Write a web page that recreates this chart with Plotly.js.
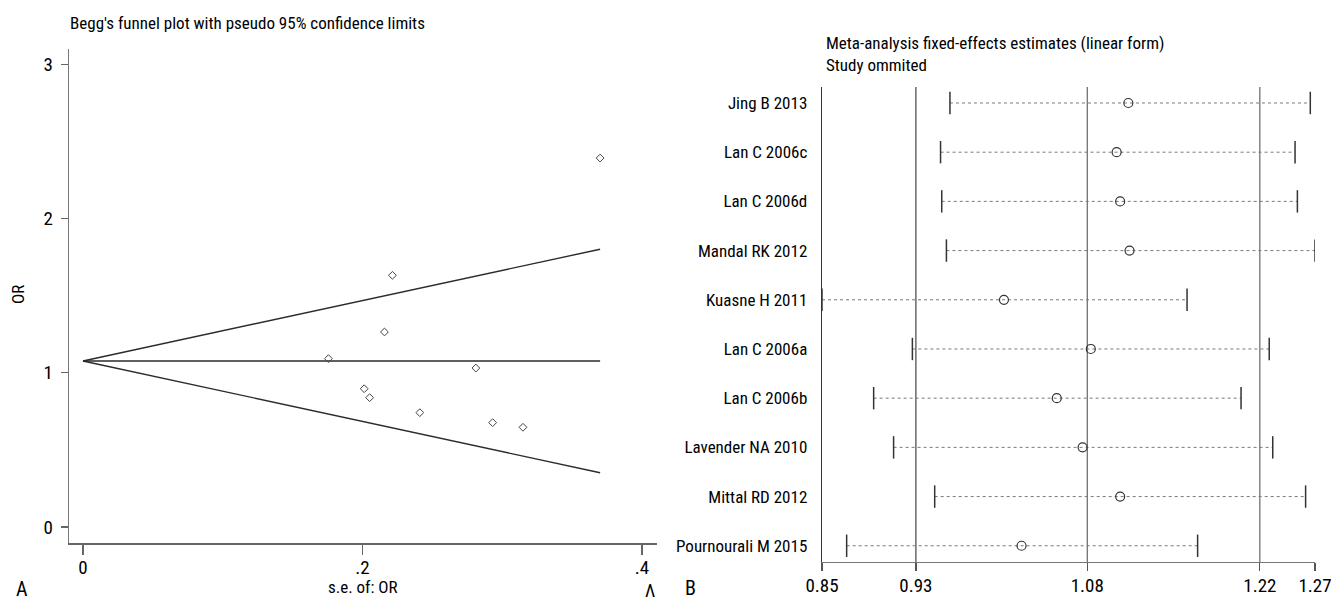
<!DOCTYPE html>
<html>
<head>
<meta charset="utf-8">
<script src="https://cdn.plot.ly/plotly-3.0.1.min.js"></script>
<style>
  html, body { margin: 0; padding: 0; background: #fff; overflow: hidden; }
  #chart { width: 1335px; height: 601px; }
</style>
</head>
<body>
<div id="chart"></div>
<script>
// ---- Panel A: Begg's funnel plot ----
const seOR = [0.1756, 0.2157, 0.2214, 0.2811, 0.2012, 0.2051, 0.2410, 0.2931, 0.3148, 0.3700];
const orValues = [1.091, 1.264, 1.631, 1.030, 0.896, 0.838, 0.741, 0.676, 0.646, 2.391];
// pseudo 95% confidence limits (straight lines from the pooled estimate)
const funnelSE = [0, 0.370];
const funnelUpper = [1.076, 1.800];
const funnelLower = [1.076, 0.351];
const funnelCenter = [1.076, 1.076];
const funnelXTicks = [0, 0.2, 0.4];
const funnelXLabels = ['0', '.2', '.4'];
const funnelYTicks = [0, 1, 2, 3];

// ---- Panel B: influence analysis, one study omitted at a time ----
const studies = ['Jing B 2013', 'Lan C 2006c', 'Lan C 2006d', 'Mandal RK 2012', 'Kuasne H 2011',
                 'Lan C 2006a', 'Lan C 2006b', 'Lavender NA 2010', 'Mittal RD 2012', 'Pournourali M 2015'];
const estimate = [1.111, 1.101, 1.104, 1.112, 1.005, 1.079, 1.050, 1.072, 1.104, 1.020];
const lowerCI  = [0.959, 0.951, 0.952, 0.956, 0.850, 0.927, 0.894, 0.911, 0.946, 0.871];
const upperCI  = [1.266, 1.253, 1.255, 1.270, 1.161, 1.231, 1.207, 1.234, 1.262, 1.170];
const pooledEstimate = 1.076;
const pooledCI = [0.930, 1.223];
const forestTicks = [0.85, 0.930, 1.076, 1.223, 1.27];
const forestTickLabels = ['0.85', '0.93', '1.08', '1.22', '1.27'];

const FONT = '"Roboto Condensed", "Liberation Sans Narrow", "Arial Narrow", sans-serif';
const INK = '#000';
const W = 1335, H = 601;
const px = v => v / W;
const py = v => 1 - v / H;

const rows = studies.map((_, i) => i);

// dotted interval segments, one per study, separated by gaps
const segX = [], segY = [];
rows.forEach(i => { segX.push(lowerCI[i], upperCI[i], null); segY.push(i, i, null); });

const traces = [
  { x: funnelSE, y: funnelUpper, xaxis: 'x', yaxis: 'y', mode: 'lines',
    line: { color: '#2b2b2b', width: 1.4 }, hoverinfo: 'skip' },
  { x: funnelSE, y: funnelLower, xaxis: 'x', yaxis: 'y', mode: 'lines',
    line: { color: '#2b2b2b', width: 1.4 }, hoverinfo: 'skip' },
  { x: funnelSE, y: funnelCenter, xaxis: 'x', yaxis: 'y', mode: 'lines',
    line: { color: '#2b2b2b', width: 1.4 }, hoverinfo: 'skip' },
  { x: seOR, y: orValues, xaxis: 'x', yaxis: 'y', mode: 'markers',
    marker: { symbol: 'diamond-open', size: 6, color: '#444', line: { width: 1, color: '#444' } } },

  { x: segX, y: segY, xaxis: 'x2', yaxis: 'y2', mode: 'lines',
    line: { color: '#7a7a7a', width: 1, dash: 'dot' }, connectgaps: false, hoverinfo: 'skip' },
  { x: lowerCI.concat(upperCI), y: rows.concat(rows), xaxis: 'x2', yaxis: 'y2', mode: 'markers',
    marker: { symbol: 'line-ns-open', size: 16, color: '#333', line: { width: 1.5, color: '#333' } } },
  { x: estimate, y: rows, xaxis: 'x2', yaxis: 'y2', mode: 'markers',
    marker: { symbol: 'circle-open', size: 9, color: '#333', line: { width: 1.2, color: '#333' } } }
];

const refLines = [pooledCI[0], pooledEstimate, pooledCI[1]].map((v, k) => ({
  type: 'line', xref: 'x2', yref: 'y2 domain', x0: v, x1: v, y0: 0, y1: 1,
  line: { color: k === 0 ? '#444' : '#666', width: 1.2 }, layer: 'below'
}));

const txt = (text, x, y, size, extra) => Object.assign({
  text: text, x: x, y: y, xref: 'paper', yref: 'paper', showarrow: false,
  font: { family: FONT, size: size, color: INK }
}, extra || {});

const tickFont = { family: FONT, size: 19, color: INK };

const layout = {
  width: W, height: H,
  margin: { l: 0, r: 0, t: 0, b: 0 },
  paper_bgcolor: '#fff', plot_bgcolor: '#fff',
  showlegend: false,
  font: { family: FONT, color: INK },
  xaxis: {
    domain: [px(69), px(657)], range: [-0.0100, 0.4107],
    tickvals: funnelXTicks, ticktext: funnelXLabels,
    ticks: 'outside', ticklen: 10, tickcolor: '#666', tickwidth: 1.2,
    showline: true, linecolor: '#666', linewidth: 1.8,
    showgrid: false, zeroline: false,
    tickfont: tickFont,
    ticklabelstandoff: -4,
    anchor: 'y'
  },
  yaxis: {
    domain: [py(543), py(49)], range: [-0.104, 3.098],
    tickvals: funnelYTicks,
    ticks: 'outside', ticklen: 7, tickcolor: '#666', tickwidth: 1.2,
    showline: true, linecolor: '#777', linewidth: 1.3,
    showgrid: false, zeroline: false,
    tickfont: tickFont,
    ticklabelstandoff: 4,
    anchor: 'x'
  },
  xaxis2: {
    domain: [px(822), px(1315)], range: [0.85, 1.27],
    tickvals: forestTicks, ticktext: forestTickLabels,
    ticks: 'outside', ticklen: 8, tickcolor: '#555', tickwidth: 1.2,
    showline: true, linecolor: '#777', linewidth: 1.3,
    showgrid: false, zeroline: false,
    tickfont: tickFont,
    ticklabelstandoff: -2,
    anchor: 'y2'
  },
  yaxis2: {
    domain: [py(562), py(87)], range: [9.33, -0.325],
    tickvals: rows, ticktext: studies,
    ticks: 'outside', ticklen: 10, tickcolor: 'rgba(0,0,0,0)',
    showline: true, linecolor: '#333', linewidth: 1.3,
    showgrid: false, zeroline: false,
    tickfont: { family: FONT, size: 17, color: INK },
    anchor: 'x2'
  },
  shapes: refLines,
  annotations: [
    txt("Begg's funnel plot with pseudo 95% confidence limits", px(68), py(23), 17,
        { xanchor: 'left', yanchor: 'middle' }),
    txt('Meta-analysis fixed-effects estimates (linear form)<br>Study ommited', px(824), py(54), 17,
        { xanchor: 'left', yanchor: 'middle', align: 'left' }),
    txt('OR', px(18), py(295), 17, { textangle: -90, xanchor: 'center', yanchor: 'middle' }),
    txt('s.e. of: OR', px(363), py(587), 17, { xanchor: 'center', yanchor: 'middle' }),
    txt('A', px(22), py(589), 20, { xanchor: 'center', yanchor: 'middle' }),
    txt('B', px(690), py(588), 20, { xanchor: 'center', yanchor: 'middle' }),
    txt('Λ', px(650), py(603), 18, { xanchor: 'center', yanchor: 'bottom' })
  ]
};

Plotly.newPlot('chart', traces, layout, { staticPlot: true, displayModeBar: false });
</script>
</body>
</html>
